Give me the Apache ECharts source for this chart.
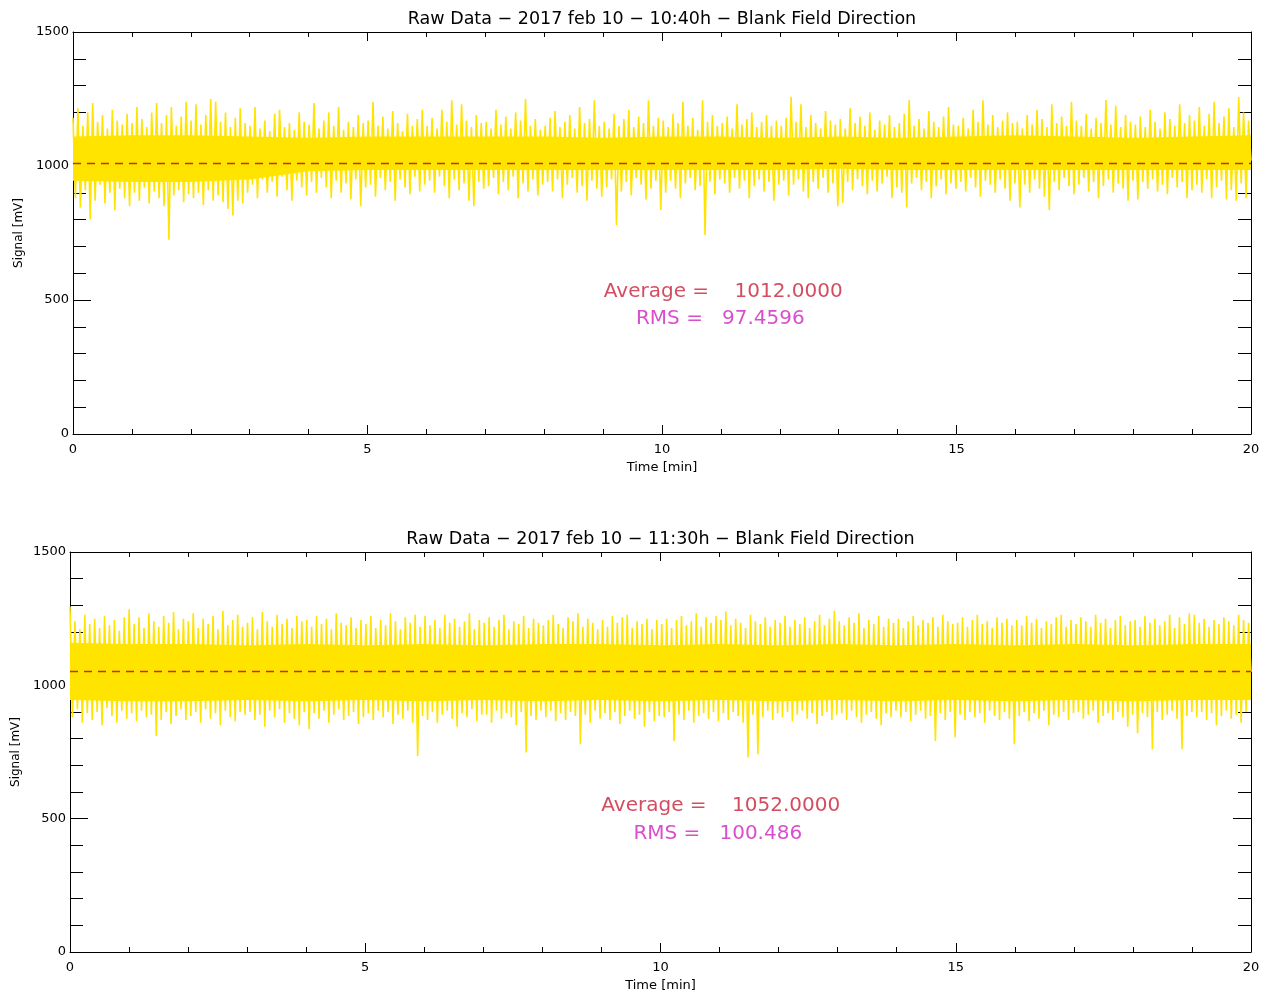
<!DOCTYPE html>
<html><head><meta charset="utf-8">
<script src="https://cdn.jsdelivr.net/npm/echarts@6/dist/echarts.min.js"></script>
<style>html,body{margin:0;padding:0;background:#fff}#c{width:1267px;height:993px}</style>
</head><body><div id="c"></div><script>
// ---- data ----
const titles = ['Raw Data \u2212 2017 feb 10 \u2212 10:40h \u2212 Blank Field Direction',
                'Raw Data \u2212 2017 feb 10 \u2212 11:30h \u2212 Blank Field Direction'];
const xName = 'Time [min]';
const yName = 'Signal [mV]';
const durationMin = 20;
// upper / lower excursions of the raw signal, 12 pairs per minute (mV)
const topHi = [
1180,1215,1150,1200,1235,1165,1190,1140,1210,1170,1155,1195,
1160,1220,1175,1145,1200,1235,1160,1190,1220,1150,1185,1240,
1170,1230,1155,1190,1250,1240,1165,1200,1145,1180,1215,1160,
1150,1220,1140,1170,1130,1195,1210,1145,1160,1135,1200,1165,
1155,1235,1140,1170,1200,1150,1220,1135,1165,1145,1190,1160,
1170,1240,1150,1185,1140,1205,1160,1130,1195,1150,1175,1210,
1150,1180,1140,1210,1165,1245,1155,1230,1170,1145,1190,1160,
1165,1140,1210,1155,1185,1140,1200,1170,1250,1150,1175,1135,
1150,1180,1205,1145,1165,1190,1140,1220,1160,1175,1245,1150,
1165,1140,1195,1150,1175,1210,1145,1185,1160,1245,1150,1180,
1170,1145,1195,1160,1240,1150,1180,1135,1245,1165,1190,1150,
1160,1185,1140,1230,1155,1175,1200,1145,1165,1190,1150,1170,
1150,1180,1258,1165,1230,1145,1190,1160,1140,1205,1170,1155,
1175,1140,1215,1160,1185,1150,1200,1135,1170,1155,1190,1145,
1160,1195,1246,1150,1175,1140,1205,1165,1145,1185,1220,1155,
1150,1180,1140,1210,1165,1245,1155,1190,1145,1170,1200,1160,
1165,1140,1190,1155,1210,1175,1145,1230,1160,1185,1150,1240,
1170,1150,1195,1140,1180,1160,1246,1155,1225,1145,1190,1165,
1155,1185,1145,1210,1165,1140,1200,1175,1150,1230,1160,1190,
1170,1220,1150,1195,1240,1160,1185,1215,1145,1257,1200,1170];
const topLo = [
880,845,910,800,870,930,860,900,835,915,880,850,
900,870,920,860,905,880,850,725,890,910,865,895,
880,900,855,910,870,890,865,840,815,870,860,900,
930,880,950,900,940,885,960,910,870,945,920,890,
940,900,955,920,880,945,900,935,875,950,850,920,
930,885,955,910,940,870,950,920,895,960,905,930,
945,900,960,925,880,950,910,935,870,850,940,915,
925,955,895,940,910,960,880,935,905,950,890,930,
940,905,950,880,930,955,900,925,870,945,915,885,
920,950,780,905,940,890,955,930,875,915,945,836,
900,945,915,880,935,955,910,925,743,940,895,950,
935,900,955,915,945,880,925,950,905,940,870,930,
945,890,930,950,905,880,940,915,955,900,935,850,
862,940,910,950,925,895,945,905,935,960,880,920,
900,845,935,955,910,940,880,925,950,895,935,915,
940,905,955,920,885,945,930,900,950,915,870,935,
845,930,900,950,915,885,836,940,910,955,925,895,
930,955,905,940,880,925,950,900,935,915,870,945,
875,940,915,950,905,930,895,955,920,940,880,910,
930,900,950,880,920,945,875,910,870,935,880,1020];
const botHi = [
1296,1240,1210,1265,1230,1250,1215,1260,1225,1245,1205,1255,
1285,1230,1255,1215,1270,1240,1220,1260,1235,1275,1210,1250,
1240,1270,1215,1250,1230,1260,1210,1280,1225,1245,1265,1220,
1235,1255,1210,1275,1240,1220,1265,1230,1250,1215,1260,1240,
1245,1220,1260,1230,1250,1210,1270,1235,1225,1255,1215,1245,
1230,1260,1215,1245,1225,1270,1240,1210,1255,1235,1265,1220,
1260,1225,1245,1215,1265,1235,1250,1220,1240,1270,1210,1245,
1235,1255,1220,1245,1265,1210,1240,1230,1260,1215,1250,1235,
1225,1245,1265,1230,1215,1255,1240,1270,1220,1250,1235,1210,
1245,1220,1260,1235,1255,1265,1215,1240,1230,1250,1210,1245,
1230,1250,1215,1245,1260,1225,1240,1270,1220,1255,1235,1260,
1245,1277,1225,1250,1235,1215,1265,1240,1230,1255,1220,1245,
1235,1260,1220,1245,1230,1255,1215,1240,1265,1225,1250,1280,
1240,1225,1255,1235,1270,1215,1245,1230,1260,1220,1250,1235,
1250,1215,1240,1260,1225,1245,1235,1255,1220,1265,1240,1230,
1235,1255,1220,1245,1265,1230,1240,1215,1255,1235,1250,1225,
1245,1225,1260,1235,1250,1215,1240,1230,1255,1265,1220,1245,
1230,1255,1240,1220,1265,1235,1250,1215,1245,1260,1225,1240,
1245,1220,1260,1235,1250,1225,1240,1265,1215,1255,1230,1270,
1265,1235,1250,1220,1245,1230,1255,1240,1225,1265,1245,1235];
const botLo = [
880,910,860,895,870,900,850,915,885,860,905,875,
895,865,905,880,890,810,870,900,855,885,910,870,
885,900,860,910,875,895,850,905,880,865,900,890,
900,870,890,845,905,880,910,860,895,875,850,900,
835,895,875,905,860,890,910,870,885,900,855,880,
895,870,905,880,900,855,890,875,905,860,735,885,
870,900,860,890,905,875,845,895,880,910,865,890,
890,860,905,875,895,880,850,900,748,885,870,905,
880,905,865,895,870,900,885,779,890,860,905,875,
895,870,900,855,885,905,875,890,845,900,865,885,
880,900,791,890,870,905,860,885,895,875,900,865,
895,870,900,885,860,729,890,742,880,905,870,895,
880,900,865,890,905,875,895,855,885,900,870,890,
895,870,905,880,860,890,900,875,850,895,880,905,
880,900,865,890,905,875,885,791,895,870,900,805,
890,870,900,880,895,860,905,885,870,900,875,779,
885,900,865,895,875,905,850,890,880,900,870,895,
900,875,890,905,860,885,895,870,900,880,845,890,
820,895,880,760,900,870,890,905,875,760,885,900,
880,900,870,895,850,885,905,875,890,860,900,1050];
// dense core of the trace, one value per minute (t = 0..20)
const topCoreLo = [945,940,940,950,980,985,985,985,985,985,985,985,985,990,985,985,985,985,985,985,985];
const topCoreHi = [1110,1115,1115,1110,1105,1110,1110,1110,1110,1105,1110,1110,1105,1110,1105,1110,1115,1110,1105,1110,1115];
const botCoreLo = [945,940,940,945,940,945,940,945,940,945,940,945,940,945,940,945,940,945,940,945,945];
const botCoreHi = [1160,1155,1155,1150,1155,1150,1155,1150,1155,1155,1150,1155,1150,1155,1150,1155,1150,1155,1150,1155,1155];
const averages = [1012.0, 1052.0];
const rmsValues = [97.4596, 100.486];
// anchor of the annotation texts (time, signal)
const avgLabelPos = [[11.04, 530], [11.02, 550]];
const rmsLabelPos = [[10.99, 429], [10.97, 445]];

// ---- build ----
function buildSeries(hi, lo) {
  const n = hi.length * 2;
  const dt = durationMin / (n - 1);
  const out = [];
  for (let i = 0; i < hi.length; i++) {
    out.push([(2 * i) * dt, hi[i]]);
    out.push([(2 * i + 1) * dt, lo[i]]);
  }
  return out;
}
const FONT = 'DejaVu Sans';
const YEL = '#ffe400';
const grids = [
  {left: 73, right: 16, top: 32, height: 402},
  {left: 70, right: 16, top: 552, height: 401}
];
function xAxisPair(gi, title) {
  const common = {
    type: 'value', gridIndex: gi, min: 0, max: 20, interval: 5,
    axisLine: {show: true, onZero: false, lineStyle: {color: '#000', width: 1}},
    axisTick: {show: true, inside: true, length: 9, lineStyle: {color: '#000'}},
    minorTick: {show: true, splitNumber: 5, length: 5, lineStyle: {color: '#000'}},
    splitLine: {show: false}
  };
  return [
    Object.assign({}, common, {position: 'bottom',
      axisLabel: {show: true, margin: 9, fontSize: 13, color: '#000', fontFamily: FONT,
        formatter: v => String(v)},
      name: xName, nameLocation: 'middle', nameGap: 27,
      nameTextStyle: {fontSize: 13, color: '#000', fontFamily: FONT}}),
    Object.assign({}, common, {position: 'top', axisLabel: {show: false},
      name: title, nameLocation: 'middle', nameGap: 4,
      nameTextStyle: {fontSize: 17.5, color: '#000', fontFamily: FONT}})
  ];
}
function yAxisPair(gi) {
  const common = {
    type: 'value', gridIndex: gi, min: 0, max: 1500, interval: 500,
    axisLine: {show: true, onZero: false, lineStyle: {color: '#000', width: 1}},
    axisTick: {show: true, inside: true, length: 18, lineStyle: {color: '#000'}},
    minorTick: {show: true, splitNumber: 5, length: 13, lineStyle: {color: '#000'}},
    splitLine: {show: false}
  };
  return [
    Object.assign({}, common, {position: 'left',
      axisLabel: {show: true, margin: 4, fontSize: 13, color: '#000', fontFamily: FONT,
        formatter: v => String(v)},
      name: yName, nameLocation: 'middle', nameGap: 40, nameRotate: 90,
      nameTextStyle: {fontSize: 12, color: '#000', fontFamily: FONT}}),
    Object.assign({}, common, {position: 'right', axisLabel: {show: false}})
  ];
}
const xAxes = [].concat(xAxisPair(0, titles[0]), xAxisPair(1, titles[1]));
const yAxes = [].concat(yAxisPair(0), yAxisPair(1));
const hiArr = [topHi, botHi], loArr = [topLo, botLo];
const coreLoArr = [topCoreLo, botCoreLo], coreHiArr = [topCoreHi, botCoreHi];
const series = [];
for (let g = 0; g < 2; g++) {
  const cLo = coreLoArr[g], cHi = coreHiArr[g];
  series.push({
    type: 'custom', xAxisIndex: 2 * g, yAxisIndex: 2 * g, silent: true,
    data: [[0, 0]],
    renderItem: function (params, api) {
      const pts = [];
      for (let i = 0; i < cHi.length; i++) pts.push(api.coord([i, cHi[i]]));
      for (let i = cLo.length - 1; i >= 0; i--) pts.push(api.coord([i, cLo[i]]));
      return {type: 'polygon', shape: {points: pts}, style: {fill: YEL, stroke: null}};
    }
  });
  series.push({
    type: 'line', xAxisIndex: 2 * g, yAxisIndex: 2 * g,
    data: buildSeries(hiArr[g], loArr[g]),
    showSymbol: false, symbol: 'none', sampling: null, silent: true,
    lineStyle: {color: YEL, width: 1.6},
    markLine: {silent: true, symbol: 'none', label: {show: false},
      lineStyle: {color: '#cc2a1a', type: [8, 6], width: 1.3},
      data: [{yAxis: averages[g]}]}
  });
  series.push({
    type: 'scatter', xAxisIndex: 2 * g, yAxisIndex: 2 * g, silent: true,
    symbolSize: 1, itemStyle: {color: 'rgba(0,0,0,0)'},
    data: [
      {value: avgLabelPos[g], label: {show: true, position: 'inside',
        formatter: 'Average =    ' + averages[g].toFixed(4),
        color: '#c8203a', fontSize: 20, fontFamily: FONT}},
      {value: rmsLabelPos[g], label: {show: true, position: 'inside',
        formatter: 'RMS =   ' + String(rmsValues[g]),
        color: '#cf22bf', fontSize: 20, fontFamily: FONT}}
    ]
  });
}
const chart = echarts.init(document.getElementById('c'), null, {renderer: 'canvas'});
chart.setOption({
  animation: false,
  backgroundColor: '#fff',
  grid: grids,
  xAxis: xAxes,
  yAxis: yAxes,
  series: series
});
</script></body></html>
